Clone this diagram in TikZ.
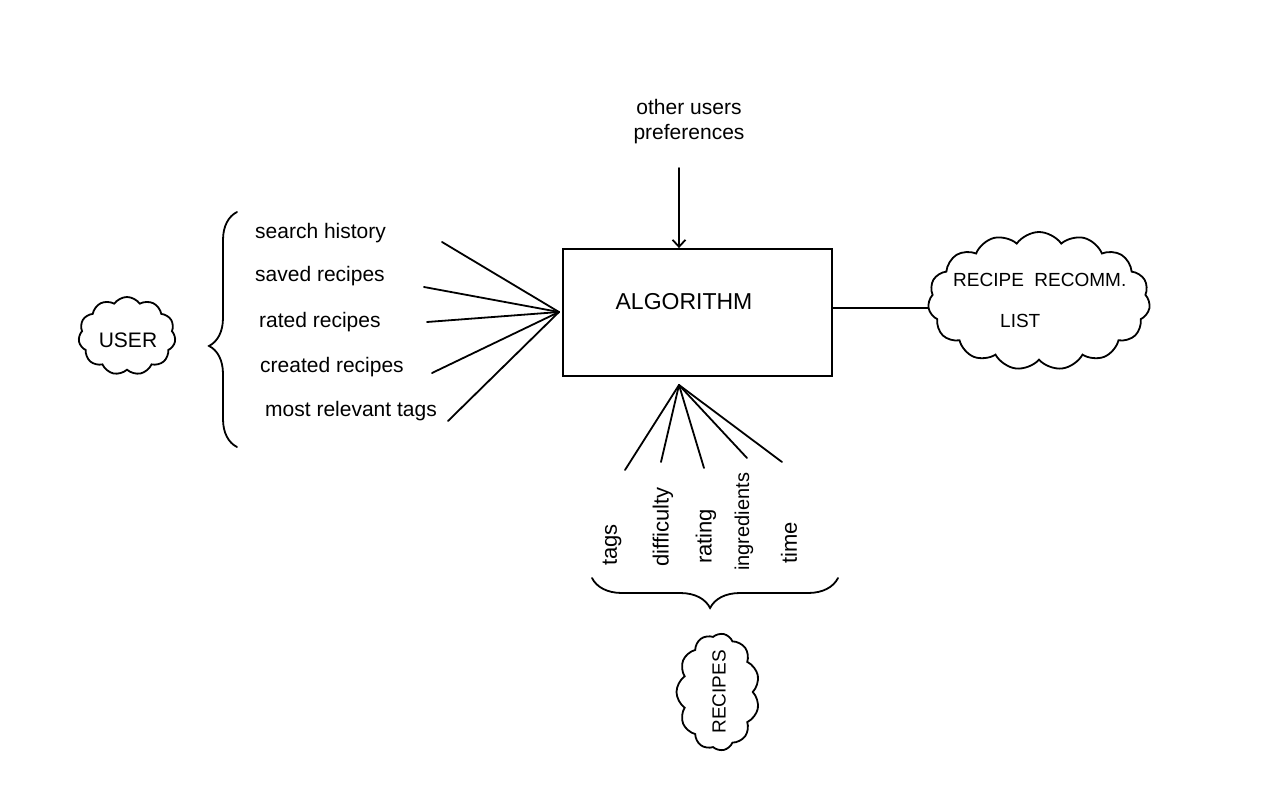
\documentclass[tikz,border=0pt]{standalone}
\usepackage{fontspec}
\setmainfont{Liberation Sans}
\usetikzlibrary{shapes.symbols,decorations.pathreplacing,arrows.meta}
\tikzset{
  ln/.style={line width=1.8pt, line cap=round},
  lbl/.style={font=\fontsize{21}{24}\selectfont, inner sep=0pt},
  cloudy/.style={cloud, cloud puffs=11, cloud puff arc=110, cloud ignores aspect, draw, line width=1.8pt, inner sep=0pt},
  vlbl/.style={lbl, font=\fontsize{22}{24}\selectfont, rotate=90, anchor=west},
}
\begin{document}
\begin{tikzpicture}[x=1pt,y=-1pt]
\useasboundingbox (0,0) rectangle (1280,800);
\fill[white] (0,0) rectangle (1280,800);

% USER cloud
\node[cloudy, minimum width=97pt, minimum height=78pt] (user) at (127,336) {};
\node[lbl, font=\fontsize{21}{24}\selectfont] (usert) at (128,340) {USER};

% left brace
\coordinate (lbb) at (237,447);
\coordinate (lbt) at (237,212);
\draw[ln, decorate, decoration={brace, amplitude=28pt, aspect=0.43}] (lbb) -- (lbt);

% user labels
\node[lbl, anchor=west] (l1) at (255,233) {search history};
\node[lbl, anchor=west] (l2) at (255,276) {saved recipes};
\node[lbl, anchor=west] (l3) at (259,322) {rated recipes};
\node[lbl, anchor=west] (l4) at (260,367) {created recipes};
\node[lbl, anchor=west] (l5) at (265,411) {most relevant tags};

\coordinate (s1) at (442,242);
\coordinate (s2) at (424,287);
\coordinate (s3) at (427,322);
\coordinate (s4) at (432,373);
\coordinate (s5) at (448,421);
\coordinate (lfan) at (559,312);
\foreach \i in {1,...,5} \draw[ln] (s\i) -- (lfan);

% algorithm box
\node[draw, line width=1.8pt, minimum width=269pt, minimum height=127pt, inner sep=0pt] (alg) at (697.5,312.5) {};
\node[lbl, font=\fontsize{23}{26}\selectfont] (algt) at (684,302) {ALGORITHM};

% other users preferences
\node[lbl, align=center, font=\fontsize{21}{25}\selectfont] (oup) at (689,122) {other users\\preferences};
\coordinate (oupa) at (679,168);
\draw[ln, -{Straight Barb[length=7pt,width=13pt,line width=1.8pt]}] (oupa) -- (alg.north -| oupa);

% recipe recommendation cloud
\node[cloudy, cloud puffs=15, minimum width=222pt, minimum height=138pt] (rec) at (1039,301) {};
\node[lbl, anchor=west, font=\fontsize{19}{22}\selectfont] (rect1) at (953,280) {RECIPE\ \ RECOMM.};
\node[lbl, anchor=west, font=\fontsize{19}{22}\selectfont] (rect2) at (1000,321) {LIST};
\draw[ln] (alg.east |- 0,308) -- (rec.west |- 0,308);

% bottom fan
\coordinate (bfan) at (679,385);
\coordinate (b1) at (625,470);
\coordinate (b2) at (661,462);
\coordinate (b3) at (704,468);
\coordinate (b4) at (747,458);
\coordinate (b5) at (782,462);
\foreach \i in {1,...,5} \draw[ln] (bfan) -- (b\i);

% rotated labels
\node[vlbl] (t1) at (612,566) {tags};
\node[vlbl] (t2) at (663,567) {difficulty};
\node[vlbl] (t3) at (706,564) {rating};
\node[vlbl, font=\fontsize{20}{24}\selectfont] (t4) at (744,571) {ingredients};
\node[vlbl] (t5) at (789,564) {time};

% bottom brace
\coordinate (bbr) at (838,578);
\coordinate (bbl) at (592,578);
\draw[ln, decorate, decoration={brace, amplitude=30pt, aspect=0.52}] (bbr) -- (bbl);

% RECIPES cloud
\node[cloudy, cloud puffs=11, rotate=90, minimum width=117pt, minimum height=83pt] (recipes) at (718,692) {};
\node[lbl, rotate=90, font=\fontsize{19}{22}\selectfont] (recipest) at (719,692) {RECIPES};
\end{tikzpicture}
\end{document}
